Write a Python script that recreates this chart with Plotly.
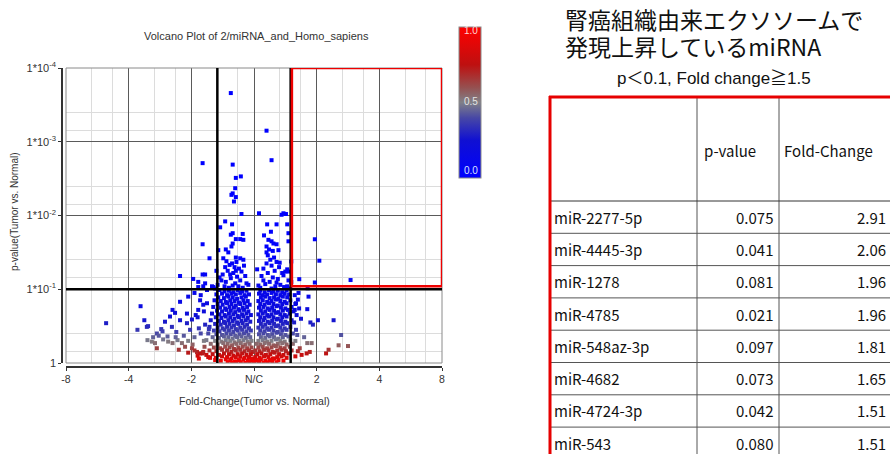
import numpy as np
import plotly.graph_objects as go

W, H = 890, 454

# ---------------- data ----------------
x_tick_vals = [-3, -2, -1, 0, 1, 2, 3]          # log2 fold change
x_tick_text = ["-8", "-4", "-2", "N/C", "2", "4", "8"]
y_tick_vals = [0, 1, 2, 3, 4]                   # -log10 p
y_tick_text = ["1", "1*10<sup>-1</sup>", "1*10<sup>-2</sup>", "1*10<sup>-3</sup>", "1*10<sup>-4</sup>"]

fc_threshold = 1.5
p_threshold = 0.1

mirna_names = ["miR-2277-5p", "miR-4445-3p", "miR-1278", "miR-4785",
               "miR-548az-3p", "miR-4682", "miR-4724-3p", "miR-543"]
mirna_p = [0.075, 0.041, 0.081, 0.021, 0.097, 0.073, 0.042, 0.080]
mirna_fc = [2.91, 2.06, 1.96, 1.96, 1.81, 1.65, 1.51, 1.51]

# (log2 fold change, -log10 p)
high_points = [(-0.37, 3.66), (0.20, 3.15), (-0.82, 2.71), (-0.34, 2.69), (0.28, 2.75), (-0.29, 2.51),
               (-0.21, 2.53), (-0.30, 2.37), (-0.34, 2.30), (-0.36, 2.28), (-0.29, 2.25), (-0.32, 2.19),
               (-0.20, 2.02), (0.08, 2.03), (0.44, 2.01), (0.51, 2.02), (0.47, 2.03), (-0.46, 1.92),
               (-0.35, 1.88), (-0.54, 1.84), (0.21, 1.88), (0.36, 1.88), (0.53, 1.88), (0.27, 1.78),
               (-0.34, 1.76), (-0.37, 1.74), (-0.18, 1.75), (0.16, 1.73), (0.55, 1.76), (-0.22, 1.68),
               (-0.29, 1.68), (-0.17, 1.67), (0.23, 1.67), (0.28, 1.65), (0.55, 1.65), (-0.82, 1.61),
               (-0.34, 1.62), (0.36, 1.61), (0.31, 1.62), (-0.36, 1.58), (0.20, 1.58), (-0.45, 1.54),
               (0.24, 1.54), (0.39, 1.53), (-0.57, 1.53), (-0.71, 1.42), (0.20, 1.50), (0.30, 1.52)]

upper_band_points = [(-0.41, 1.50), (-0.49, 1.42), (-0.29, 1.43), (-0.22, 1.42), (-0.28, 1.37), (-0.17, 1.40),
                     (-0.39, 1.33), (-0.31, 1.30), (-0.24, 1.28), (-0.42, 1.25), (-0.20, 1.24), (-0.33, 1.22),
                     (-0.50, 1.20), (-0.27, 1.17), (-0.37, 1.15), (-0.22, 1.12), (-0.45, 1.10), (-0.30, 1.08),
                     (-0.58, 1.06), (-0.25, 1.04), (-0.40, 1.02), (-0.18, 1.02), (-0.52, 1.12), (-0.35, 1.35),
                     (-0.46, 1.30), (-0.14, 1.18), (-0.60, 1.25), (-0.34, 1.05), (-0.47, 1.04), (-0.12, 1.08),
                     (-0.55, 1.16), (-0.38, 1.20), (-0.29, 1.25), (-0.44, 1.38), (-0.16, 1.32), (-0.09, 1.06),
                     (-0.62, 1.01),
                     (0.32, 1.43), (0.26, 1.40), (0.36, 1.37), (0.20, 1.35), (0.05, 1.27), (0.28, 1.32),
                     (0.40, 1.30), (0.15, 1.28), (0.33, 1.25), (0.22, 1.22), (0.45, 1.22), (0.50, 1.24),
                     (0.12, 1.18), (0.30, 1.16), (0.38, 1.14), (0.25, 1.10), (0.18, 1.07), (0.42, 1.06),
                     (0.34, 1.04), (0.10, 1.02), (0.48, 1.03), (0.28, 1.01), (0.55, 1.12), (0.53, 1.04),
                     (0.22, 1.46), (0.47, 1.19), (0.36, 1.09), (0.15, 1.12), (0.41, 1.36), (0.55, 1.24),
                     (0.53, 1.27), (0.07, 1.05), (0.58, 1.01)]

core_left_points = [
    (-0.55, .99), (-0.47, .97), (-0.40, .98), (-0.33, .96), (-0.26, .99), (-0.19, .97), (-0.12, .98),
    (-0.60, .93), (-0.51, .94), (-0.43, .92), (-0.36, .94), (-0.29, .93), (-0.22, .95), (-0.15, .92), (-0.08, .93),
    (-0.57, .89), (-0.48, .88), (-0.41, .90), (-0.34, .89), (-0.27, .87), (-0.20, .89), (-0.13, .90),
    (-0.63, .85), (-0.53, .84), (-0.45, .83), (-0.38, .85), (-0.31, .84), (-0.24, .82), (-0.17, .85), (-0.10, .84),
    (-0.58, .80), (-0.50, .79), (-0.43, .81), (-0.36, .80), (-0.29, .78), (-0.22, .80), (-0.15, .81), (-0.07, .79),
    (-0.65, .76), (-0.54, .75), (-0.46, .74), (-0.39, .76), (-0.32, .75), (-0.25, .73), (-0.18, .75), (-0.11, .76),
    (-0.59, .71), (-0.51, .70), (-0.44, .72), (-0.37, .71), (-0.30, .69), (-0.23, .71), (-0.16, .72), (-0.09, .70),
    (-0.67, .67), (-0.55, .66), (-0.47, .65), (-0.40, .67), (-0.33, .66), (-0.26, .64), (-0.19, .66), (-0.12, .67), (-0.05, .65),
    (-0.61, .62), (-0.52, .61), (-0.45, .63), (-0.38, .62), (-0.31, .60), (-0.24, .62), (-0.17, .63), (-0.10, .61),
    (-0.69, .58), (-0.56, .57), (-0.48, .56), (-0.41, .58), (-0.34, .57), (-0.27, .55), (-0.20, .57), (-0.13, .58), (-0.06, .56),
    (-0.62, .53), (-0.53, .52), (-0.46, .54), (-0.39, .53), (-0.32, .51), (-0.25, .53), (-0.18, .54), (-0.11, .52),
    (-0.71, .49), (-0.58, .48), (-0.50, .47), (-0.43, .49), (-0.36, .48), (-0.29, .46), (-0.22, .48), (-0.15, .49), (-0.08, .47),
    (-0.64, .44), (-0.55, .43), (-0.47, .45), (-0.40, .44), (-0.33, .42), (-0.26, .44), (-0.19, .45), (-0.12, .43), (-0.05, .44),
    (-0.73, .40), (-0.60, .39), (-0.51, .38), (-0.44, .40), (-0.37, .39), (-0.30, .37), (-0.23, .39), (-0.16, .40), (-0.09, .38),
    (-0.66, .35), (-0.56, .34), (-0.48, .36), (-0.41, .35), (-0.34, .33), (-0.27, .35), (-0.20, .36), (-0.13, .34), (-0.06, .35),
    (-0.76, .31), (-0.62, .30), (-0.52, .29), (-0.45, .31), (-0.38, .30), (-0.31, .28), (-0.24, .30), (-0.17, .31), (-0.10, .29), (-0.04, .30),
    (-0.69, .26), (-0.58, .25), (-0.49, .27), (-0.42, .26), (-0.35, .24), (-0.28, .26), (-0.21, .27), (-0.14, .25), (-0.07, .26),
    (-0.79, .22), (-0.64, .21), (-0.54, .20), (-0.46, .22), (-0.39, .21), (-0.32, .19), (-0.25, .21), (-0.18, .22), (-0.11, .20), (-0.04, .21),
    (-0.71, .17), (-0.60, .16), (-0.51, .18), (-0.43, .17), (-0.36, .15), (-0.29, .17), (-0.22, .18), (-0.15, .16), (-0.08, .17), (-0.02, .15),
    (-0.82, .13), (-0.66, .12), (-0.56, .11), (-0.48, .13), (-0.40, .12), (-0.33, .10), (-0.26, .12), (-0.19, .13), (-0.12, .11), (-0.05, .12),
    (-0.73, .08), (-0.61, .07), (-0.51, .09), (-0.43, .08), (-0.36, .06), (-0.29, .08), (-0.22, .09), (-0.15, .07), (-0.08, .08), (-0.02, .06),
    (-0.62, .04), (-0.53, .03), (-0.45, .05), (-0.38, .04), (-0.31, .02), (-0.24, .04), (-0.17, .05), (-0.10, .03), (-0.04, .04),
    (-0.42, .01), (-0.35, .00), (-0.28, .02), (-0.21, .01), (-0.14, .00), (-0.07, .02), (-0.01, .01)]

core_right_points = [
    (0.10, .98), (0.17, .96), (0.24, .99), (0.31, .97), (0.38, .98), (0.45, .96), (0.52, .99),
    (0.08, .94), (0.14, .92), (0.21, .93), (0.28, .95), (0.35, .93), (0.42, .92), (0.49, .94), (0.56, .93),
    (0.11, .89), (0.18, .90), (0.25, .88), (0.32, .89), (0.39, .87), (0.46, .90), (0.53, .89),
    (0.07, .84), (0.14, .85), (0.21, .83), (0.28, .84), (0.35, .86), (0.42, .84), (0.49, .83), (0.58, .85),
    (0.10, .80), (0.17, .79), (0.24, .81), (0.31, .80), (0.38, .78), (0.45, .80), (0.52, .81),
    (0.08, .75), (0.15, .76), (0.22, .74), (0.29, .75), (0.36, .77), (0.43, .75), (0.50, .74), (0.60, .76),
    (0.11, .71), (0.18, .70), (0.25, .72), (0.32, .71), (0.39, .69), (0.46, .71), (0.54, .72),
    (0.07, .66), (0.14, .67), (0.21, .65), (0.28, .66), (0.35, .68), (0.42, .66), (0.49, .65), (0.57, .67),
    (0.10, .62), (0.17, .61), (0.24, .63), (0.31, .62), (0.38, .60), (0.45, .62), (0.52, .63),
    (0.08, .57), (0.15, .58), (0.22, .56), (0.29, .57), (0.36, .59), (0.43, .57), (0.50, .56), (0.60, .58),
    (0.11, .53), (0.18, .52), (0.25, .54), (0.32, .53), (0.39, .51), (0.46, .53), (0.53, .54),
    (0.07, .48), (0.14, .49), (0.21, .47), (0.28, .48), (0.35, .50), (0.42, .48), (0.49, .47), (0.58, .49),
    (0.10, .44), (0.17, .43), (0.24, .45), (0.31, .44), (0.38, .42), (0.45, .44), (0.52, .45),
    (0.08, .39), (0.15, .40), (0.22, .38), (0.29, .39), (0.36, .41), (0.43, .39), (0.50, .38), (0.62, .40),
    (0.11, .35), (0.18, .34), (0.25, .36), (0.32, .35), (0.39, .33), (0.46, .35), (0.55, .36),
    (0.07, .30), (0.14, .31), (0.21, .29), (0.28, .30), (0.35, .32), (0.42, .30), (0.49, .29), (0.58, .31),
    (0.04, .26), (0.10, .25), (0.17, .27), (0.24, .26), (0.31, .24), (0.38, .26), (0.45, .27), (0.52, .25), (0.62, .26),
    (0.07, .21), (0.14, .22), (0.21, .20), (0.28, .21), (0.35, .23), (0.42, .21), (0.49, .20), (0.57, .22),
    (0.02, .17), (0.09, .16), (0.16, .18), (0.23, .17), (0.30, .15), (0.37, .17), (0.44, .18), (0.51, .16), (0.60, .17),
    (0.05, .12), (0.12, .13), (0.19, .11), (0.26, .12), (0.33, .14), (0.40, .12), (0.47, .11), (0.55, .13),
    (0.02, .08), (0.09, .07), (0.16, .09), (0.23, .08), (0.30, .06), (0.37, .08), (0.44, .09), (0.52, .07),
    (0.04, .04), (0.11, .05), (0.18, .03), (0.25, .04), (0.32, .06), (0.39, .04), (0.47, .03),
    (0.01, .01), (0.08, .02), (0.15, .00), (0.22, .01), (0.29, .02), (0.36, .01)]

left_side_points = [(-1.18, 1.18), (-0.97, 1.14), (-0.82, 1.20), (-0.78, 1.20), (-0.89, 1.03), (-0.81, 1.04),
                    (-0.65, 1.03), (-0.89, 1.10), (-0.78, 1.08), (-0.67, 1.04), (-0.75, 0.99),
                    (-2.36, 0.54), (-1.81, 0.77), (-1.86, 0.45), (-1.75, 0.58), (-1.71, 0.49), (-1.69, 0.50),
                    (-1.18, 0.83), (-1.30, 0.72), (-1.26, 0.68), (-1.42, 0.56), (-1.34, 0.63), (-1.31, 0.49),
                    (-1.24, 0.42), (-1.18, 0.58), (-1.07, 0.54), (-0.99, 0.59), (-1.02, 0.45), (-1.07, 0.67),
                    (-0.93, 0.65), (-0.89, 0.72), (-0.81, 0.79), (-0.86, 0.85), (-0.75, 0.81), (-0.95, 0.95),
                    (-1.05, 0.90), (-0.85, 0.92), (-0.80, 0.70), (-0.90, 0.62), (-0.78, 0.52), (-0.85, 0.40),
                    (-0.95, 0.35), (-1.05, 0.30), (-0.80, 0.30), (-0.72, 0.46), (-0.88, 0.47), (-1.12, 0.37),
                    (-0.98, 0.25),
                    (-1.55, 0.40), (-1.48, 0.46), (-1.46, 0.43), (-1.52, 0.37), (-1.61, 0.35), (-1.63, 0.29),
                    (-1.58, 0.27), (-1.37, 0.29), (-1.30, 0.27), (-1.22, 0.31), (-1.15, 0.27), (-1.70, 0.31),
                    (-1.45, 0.32), (-1.38, 0.36), (-1.25, 0.35), (-1.10, 0.22),
                    (-1.55, 0.20), (-0.99, 0.20), (-0.91, 0.15), (-0.81, 0.15), (-0.95, 0.17), (-0.86, 0.13),
                    (-0.76, 0.11), (-0.90, 0.10), (-1.05, 0.14), (-1.20, 0.18), (-0.70, 0.07), (-0.88, 0.06)]

right_side_points = [(0.65, 0.92), (0.87, 0.90), (0.71, 0.95), (0.72, 0.74), (0.85, 0.73), (0.90, 0.55),
                     (0.94, 0.52), (1.02, 0.58), (1.27, 0.58), (0.66, 0.80), (0.68, 0.65), (0.75, 0.60),
                     (0.63, 0.70), (0.65, 0.72), (0.67, 0.81), (0.70, 0.86), (0.64, 0.55), (0.67, 0.45),
                     (0.69, 0.38), (0.85, 0.27), (0.92, 0.27), (1.35, 0.24), (1.50, 0.23), (1.39, 0.38),
                     (0.73, 0.20), (0.84, 0.13), (0.89, 0.15), (0.76, 0.11), (1.19, 0.18), (1.15, 0.13),
                     (0.66, 0.30), (0.70, 0.16), (0.66, 0.09), (0.80, 0.35)]

# ---------------- build ----------------
all_pts = high_points + upper_band_points + core_left_points + core_right_points + left_side_points + right_side_points
x_vals = [p[0] for p in all_pts] + list(np.log2(mirna_fc))
y_vals = [p[1] for p in all_pts] + list(-np.log10(mirna_p))
pvals = 10 ** (-np.array(y_vals))

colorscale = [[0.0, "rgb(0,0,255)"], [0.25, "rgb(16,16,210)"], [0.4, "rgb(72,72,165)"],
              [0.5, "rgb(128,128,136)"], [0.6, "rgb(150,80,80)"], [0.75, "rgb(190,16,16)"],
              [1.0, "rgb(255,0,0)"]]

def px(x):
    return x / W

def py(y):
    return 1 - y / H

fig = go.Figure()
fig.add_trace(go.Scatter(
    x=x_vals, y=y_vals, mode="markers",
    marker=dict(symbol="square", size=4, color=pvals, cmin=0, cmax=1, colorscale=colorscale,
                line=dict(width=0),
                colorbar=dict(x=px(459), xanchor="left", xpad=0, y=py(27), yanchor="top", ypad=0,
                              len=151, lenmode="pixels", thickness=22, thicknessmode="pixels",
                              outlinewidth=1, outlinecolor="#8a8a8a", showticklabels=False, ticks="")),
    showlegend=False, hoverinfo="skip"))

minor_x = [k + f for k in range(-3, 3) for f in (0.41, 0.74)]
minor_y = [k - np.log10(m) for k in range(1, 5) for m in (4, 7)]

x_font = dict(family="Liberation Sans, Arial", size=10.5, color="#333")
y_font = dict(family="Liberation Sans, Arial", size=11, color="#333")
fig.update_layout(
    width=W, height=H, margin=dict(l=0, r=0, t=0, b=0, autoexpand=False),
    paper_bgcolor="white", plot_bgcolor="white",
    xaxis=dict(domain=[px(66), px(442)], range=[-3, 3], tickvals=x_tick_vals, ticktext=x_tick_text,
               showgrid=True, gridcolor="#5a5a5a", gridwidth=1, zeroline=False, automargin=False,
               showline=True, linecolor="#333", linewidth=1.5, ticks="outside", ticklen=3, tickcolor="#333",
               anchor="free", position=(H - 367) / H, tickfont=x_font,
               minor=dict(tickvals=minor_x, showgrid=True, gridcolor="#dcdcdc", gridwidth=1, ticks="")),
    yaxis=dict(domain=[py(363), py(68)], range=[0, 4], tickvals=y_tick_vals, ticktext=y_tick_text,
               showgrid=True, gridcolor="#5a5a5a", gridwidth=1, zeroline=False, automargin=False,
               showline=True, linecolor="#333", linewidth=1.5, ticks="outside", ticklen=3, tickcolor="#333",
               anchor="free", position=px(62), tickfont=y_font,
               minor=dict(tickvals=minor_y, showgrid=True, gridcolor="#dcdcdc", gridwidth=1, ticks="")),
)

lfc = float(np.log2(fc_threshold))
lp = float(-np.log10(p_threshold))
shapes = [
    dict(type="rect", xref="x domain", yref="y domain", x0=0, x1=1, y0=0, y1=1,
         line=dict(color="#8a8a8a", width=1), layer="above"),
    dict(type="line", xref="x", yref="y", x0=-lfc, x1=-lfc, y0=0, y1=4, line=dict(color="black", width=2.5)),
    dict(type="line", xref="x", yref="y", x0=lfc, x1=lfc, y0=0, y1=4, line=dict(color="black", width=2.5)),
    dict(type="line", xref="x", yref="y", x0=-3, x1=3, y0=lp, y1=lp, line=dict(color="black", width=2.5)),
    dict(type="rect", xref="x", yref="y", x0=lfc + 0.02, x1=3, y0=lp + 0.04, y1=4,
         line=dict(color="#ee0000", width=2.5)),
]

# table lines
tbl_left, tbl_top, hdr_bottom, row_h = 550, 97, 201, 32.3
col1, col2 = 697, 779
shapes += [
    dict(type="line", xref="paper", yref="paper", x0=px(col1), x1=px(col1), y0=py(tbl_top), y1=0,
         line=dict(color="#555", width=1)),
    dict(type="line", xref="paper", yref="paper", x0=px(col2), x1=px(col2), y0=py(tbl_top), y1=0,
         line=dict(color="#555", width=1)),
]
for k in range(len(mirna_names) + 1):
    yy = hdr_bottom + k * row_h
    shapes.append(dict(type="line", xref="paper", yref="paper", x0=px(tbl_left), x1=1, y0=py(yy), y1=py(yy),
                       line=dict(color="#555" if k else "#333", width=1)))
shapes += [
    dict(type="line", xref="paper", yref="paper", x0=px(tbl_left), x1=px(tbl_left), y0=py(tbl_top - 1), y1=0,
         line=dict(color="#e60000", width=3)),
    dict(type="line", xref="paper", yref="paper", x0=px(tbl_left - 1), x1=1, y0=py(tbl_top), y1=py(tbl_top),
         line=dict(color="#e60000", width=3)),
]
fig.update_layout(shapes=shapes)

ann = []
def add_text(text, x, y, size, xanchor="center", color="#222", family="Liberation Sans, Arial", angle=0):
    ann.append(dict(text=text, x=px(x), y=py(y), xref="paper", yref="paper", showarrow=False,
                    xanchor=xanchor, yanchor="middle", textangle=angle,
                    font=dict(size=size, color=color, family=family)))

add_text("Volcano Plot of 2/miRNA_and_Homo_sapiens", 256, 36, 11, color="#333")
add_text("p-value(Tumor vs. Normal)", 14, 212, 10, color="#333", angle=-90)
add_text("Fold-Change(Tumor vs. Normal)", 254, 401, 10.5, color="#333")

add_text("1.0", 471, 31, 10, color="rgba(255,225,225,0.95)")
add_text("0.5", 471, 101, 10, color="#e4e4e4")
add_text("0.0", 471, 170, 10, color="#dde0ff")

jp = "Noto Sans CJK JP"
add_text("腎癌組織由来エクソソームで", 563, 19, 23, xanchor="left", color="#111", family=jp)
add_text("発現上昇しているmiRNA", 563, 46, 23, xanchor="left", color="#111", family=jp)
add_text(f"p＜{p_threshold}, Fold change≧{fc_threshold}", 714, 78, 17, color="#111",
         family="Liberation Sans, Noto Sans CJK JP")

add_text("p-value", 730, 150, 15, color="#111", family=jp)
add_text("Fold-Change", 782, 150, 15, xanchor="left", color="#111", family=jp)
for i, (name, p, fc) in enumerate(zip(mirna_names, mirna_p, mirna_fc)):
    yc = hdr_bottom + row_h * (i + 0.5)
    add_text(name, 552, yc, 15, xanchor="left", color="#111", family=jp)
    add_text(f"{p:.3f}", 775, yc, 15, xanchor="right", color="#111", family=jp)
    add_text(f"{fc:.2f}", 888, yc, 15, xanchor="right", color="#111", family=jp)

fig.update_layout(annotations=ann)
fig.write_html("out.html", config={"displayModeBar": False},
               post_script="document.body.style.margin='0';document.body.style.overflow='hidden';")
